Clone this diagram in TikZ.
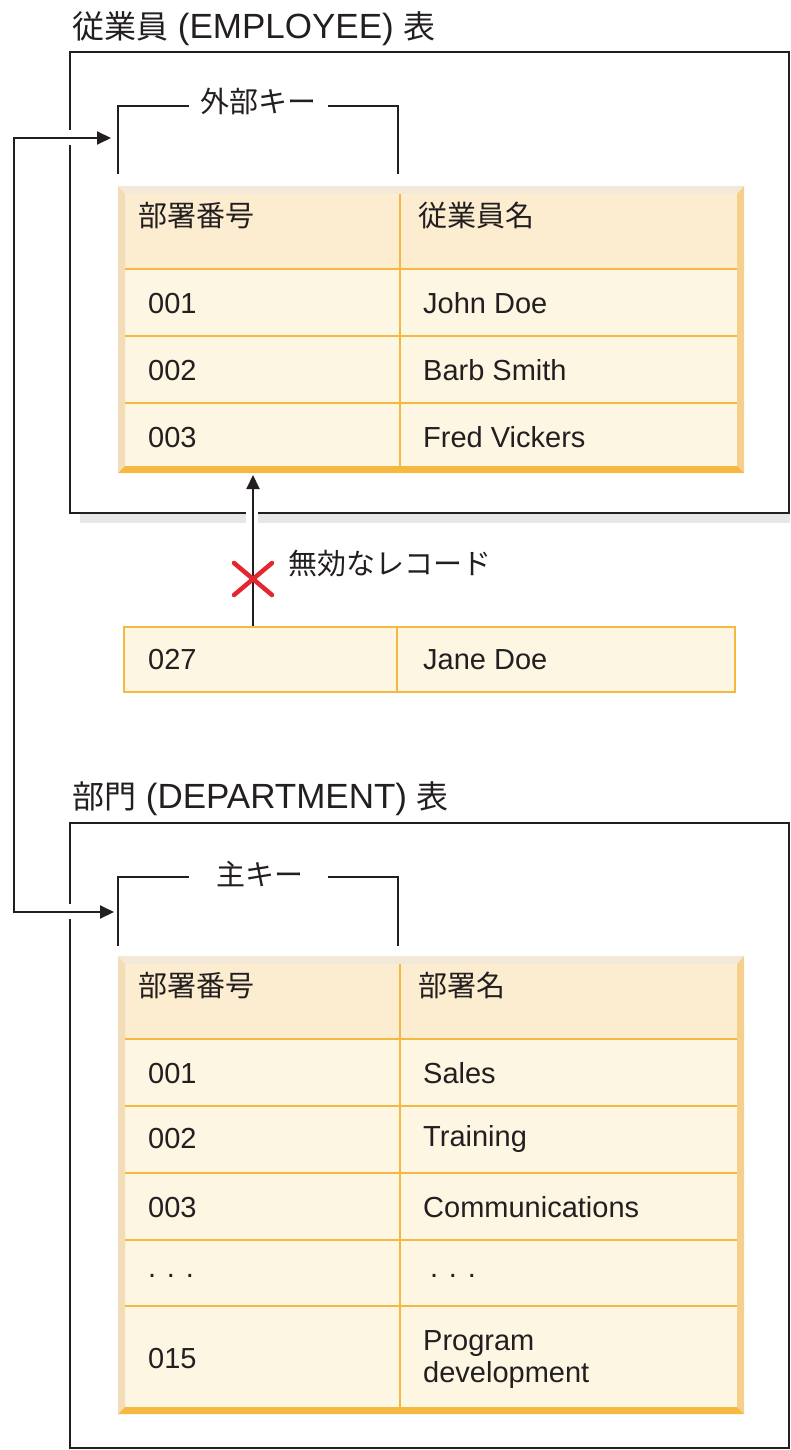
\documentclass[tikz,border=0pt]{standalone}
\usepackage{fontspec}
\usepackage{tikz}
\usetikzlibrary{arrows.meta}
\usetikzlibrary{positioning}
\setmainfont{Liberation Sans}
\newfontfamily\jp{Noto Sans CJK JP}

\definecolor{ink}{HTML}{231F20}
\definecolor{bodyc}{HTML}{FDF6E3}
\definecolor{hdrc}{HTML}{FCEDD0}
\definecolor{bvtop}{HTML}{F3E9D9}
\definecolor{bvleft}{HTML}{F3DDB8}
\definecolor{bvright}{HTML}{F6CF8D}
\definecolor{bvbot}{HTML}{F5B841}
\definecolor{tblline}{HTML}{F5B841}
\definecolor{shadowc}{HTML}{E6E7E8}
\definecolor{xred}{HTML}{E3262F}

\tikzset{
    frame/.style={draw=ink, line width=2pt},
    bracket/.style={draw=ink, line width=2.5pt},
    rowline/.style={draw=tblline, line width=2.5pt},
    colline/.style={draw=tblline, line width=2pt},
    arr/.style={draw=ink, line width=2pt, -{Triangle[length=14pt,width=13pt]}},
    arrtwo/.style={draw=ink, line width=2pt, {Triangle[length=14pt,width=13pt]}-{Triangle[length=14pt,width=13pt]}},
    xmark/.style={draw=xred, line width=4.5pt, line cap=round},
    lbl/.style={anchor=base west, inner sep=0pt, text=ink, font=\fontsize{29}{32}\selectfont, align=left},
    jlbl/.style={lbl, font=\jp\fontsize{29}{32}\selectfont},
    ttl/.style={anchor=base west, inner sep=0pt, text=ink, font=\fontsize{35}{40}\selectfont},
    rowbox/.style={draw=tblline, fill=bodyc, line width=2pt, inner sep=0pt}
}
\newcommand{\jt}[1]{{\jp\fontsize{32}{40}\selectfont #1}}

\begin{document}
\begin{tikzpicture}[x=1pt, y=-1pt]

        \useasboundingbox (0,0) rectangle (790,1450);

        % employee table frame
        \node[ttl] (emptitle) at (72,39) {\jt{従業員} (EMPLOYEE) \jt{表}};
        \fill[shadowc] (80,514) rectangle (790,523);
        \draw[frame] (70,52) rectangle (789,513);

        \draw[bracket] (118,174) -- (118,106) -- (189,106);
        \draw[bracket] (328,106) -- (398,106) -- (398,174);
        \node[jlbl, anchor=base] (fk) at (258,113) {外部キー};

        \fill[bodyc] (118,186) rectangle (744,473);
        \fill[hdrc] (125,194) rectangle (737,268);
        \fill[bvtop] (118,186) -- (744,186) -- (737,194) -- (125,194) -- cycle;
        \fill[bvleft] (118,186) -- (125,194) -- (125,466) -- (118,473) -- cycle;
        \fill[bvright] (744,186) -- (744,473) -- (737,466) -- (737,194) -- cycle;
        \fill[bvbot] (118,473) -- (744,473) -- (737,466) -- (125,466) -- cycle;
        \foreach \y in {269,336,403}
            \draw[rowline] (125,\y) -- (737,\y);
        \draw[colline] (400,194) -- (400,466);

        \node[jlbl] (ehd) at (138,226) {部署番号};
        \node[jlbl] (ehn) at (418,226) {従業員名};
        \node[lbl] (e1d) at (148,313) {001};
        \node[lbl] (e1n) at (423,313) {John Doe};
        \node[lbl] (e2d) at (148,380) {002};
        \node[lbl] (e2n) at (423,380) {Barb Smith};
        \node[lbl] (e3d) at (148,447) {003};
        \node[lbl] (e3n) at (423,447) {Fred Vickers};
        \coordinate (empfoot) at (253,475);

        % rejected record
        \node[rowbox, minimum width=611pt, minimum height=65pt] (jane) at (429.5,659.5) {};
        \draw[colline] (397,627) -- (397,692);
        \node[lbl] (jd) at (148,669) {027};
        \node[lbl] (jn) at (423,669) {Jane Doe};

        \fill[white] (246,509) rectangle (258,525);
        \draw[arr] (jane.north -| empfoot) -- (empfoot);
        \draw[xmark] (234,563) -- (272,595) (234,595) -- (272,563);
        \node[jlbl] (bad) at (288,574) {無効なレコード};

        % department table frame
        \node[ttl] (deptitle) at (72,808) {\jt{部門} (DEPARTMENT) \jt{表}};
        \draw[frame] (70,823) rectangle (789,1448);

        \draw[bracket] (118,946) -- (118,877) -- (189,877);
        \draw[bracket] (328,877) -- (398,877) -- (398,946);
        \node[jlbl, anchor=base] (pk) at (260,885) {主キー};

        \fill[bodyc] (118,956) rectangle (744,1414);
        \fill[hdrc] (125,964) rectangle (737,1038);
        \fill[bvtop] (118,956) -- (744,956) -- (737,964) -- (125,964) -- cycle;
        \fill[bvleft] (118,956) -- (125,964) -- (125,1407) -- (118,1414) -- cycle;
        \fill[bvright] (744,956) -- (744,1414) -- (737,1407) -- (737,964) -- cycle;
        \fill[bvbot] (118,1414) -- (744,1414) -- (737,1407) -- (125,1407) -- cycle;
        \foreach \y in {1039,1106,1173,1240,1306}
            \draw[rowline] (125,\y) -- (737,\y);
        \draw[colline] (400,964) -- (400,1407);

        \node[jlbl] (dhd) at (138,996) {部署番号};
        \node[jlbl] (dhn) at (418,996) {部署名};
        \node[lbl] (d1d) at (148,1083) {001};
        \node[lbl] (d1n) at (423,1083) {Sales};
        \node[lbl] (d2d) at (148,1148) {002};
        \node[lbl] (d2n) at (423,1146) {Training};
        \node[lbl] (d3d) at (148,1217) {003};
        \node[lbl] (d3n) at (423,1217) {Communications};
        \node[lbl] (d4d) at (148,1277) {. . .};
        \node[lbl] (d4n) at (430,1277) {. . .};
        \node[lbl] (d5d) at (148,1368) {015};
        \node[lbl] (d5n) at (423,1382) {Program\\development};

        % key link
        \coordinate (fkin) at (111,138);
        \coordinate (pkin) at (114,912);
        \fill[white] (64,130) rectangle (76,145);
        \fill[white] (64,904) rectangle (76,919);
        \draw[arrtwo] (fkin) -- ++(-97,0) |- (pkin);

    \end{tikzpicture}
\end{document}
